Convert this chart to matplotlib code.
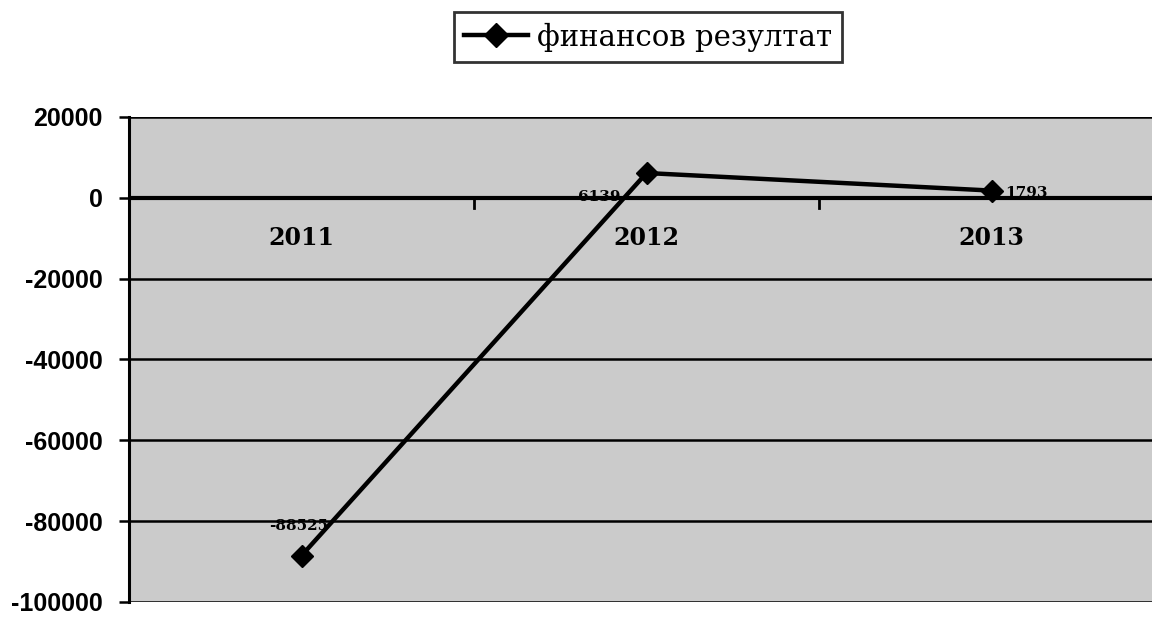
import matplotlib
matplotlib.use("Agg")
import matplotlib.pyplot as plt
from matplotlib.lines import Line2D

years = ["2011", "2012", "2013"]
values = [-88525, 6139, 1793]
label_texts = ["-88525", "6139", "1793"]
yticks = [-100000, -80000, -60000, -40000, -20000, 0, 20000]
series_name = "финансов резултат"

fig = plt.figure(figsize=(11.52, 6.17), dpi=100)
ax = fig.add_axes([129/1152, 1-602/617, 1035/1152, (602-117)/617])
ax.set_facecolor("#cbcbcb")

x = list(range(len(years)))
ax.set_xlim(-0.5, len(years) - 0.5)
ax.set_ylim(-100000, 20000)

# gridlines
for yv in yticks:
    lw = 3.0 if yv == 0 else 1.8
    ax.axhline(yv, color="black", lw=lw, zorder=2)

# category boundary ticks on the zero line
for b in [0.5, 1.5]:
    ax.plot([b, b], [0, -2600], color="black", lw=2, zorder=2)

ax.plot(x, values, color="black", lw=3.2, marker="D", markersize=11,
        markerfacecolor="black", markeredgecolor="black", zorder=4)

# category labels below the zero line
for xi, yr in zip(x, years):
    ax.text(xi, -10000, yr, ha="center", va="center", fontsize=17,
            fontweight="bold", family="DejaVu Serif", zorder=3)

# data labels
offsets = [(-2, 21), (-34, -17), (10, -2)]
has = ["center", "center", "left"]
for xi, v, t, off, ha_ in zip(x, values, label_texts, offsets, has):
    ax.annotate(t, (xi, v), xytext=off, textcoords="offset points",
                ha=ha_, va="center", fontsize=11, fontweight="bold",
                family="DejaVu Serif", zorder=5)

ax.set_yticks(yticks)
ax.set_yticklabels([str(v) for v in yticks], fontsize=18,
                   fontweight="bold", family="Liberation Sans")
ax.tick_params(axis="y", length=7, width=1.8, pad=12)
ax.set_xticks([])
for s in ["top", "right", "bottom"]:
    ax.spines[s].set_visible(False)
ax.spines["left"].set_linewidth(2.2)

handle = Line2D([], [], color="black", lw=3.2, marker="D", markersize=12)
leg = fig.legend([handle], [series_name], loc="center",
                 bbox_to_anchor=(648/1152, 1-37/617), frameon=True,
                 fancybox=False, edgecolor="black", handlelength=2.2,
                 handletextpad=0.3, borderpad=0.35,
                 prop={"family": "DejaVu Serif", "size": 21})
leg.get_frame().set_linewidth(2)

fig.savefig("out.png", dpi=100, facecolor="white")
